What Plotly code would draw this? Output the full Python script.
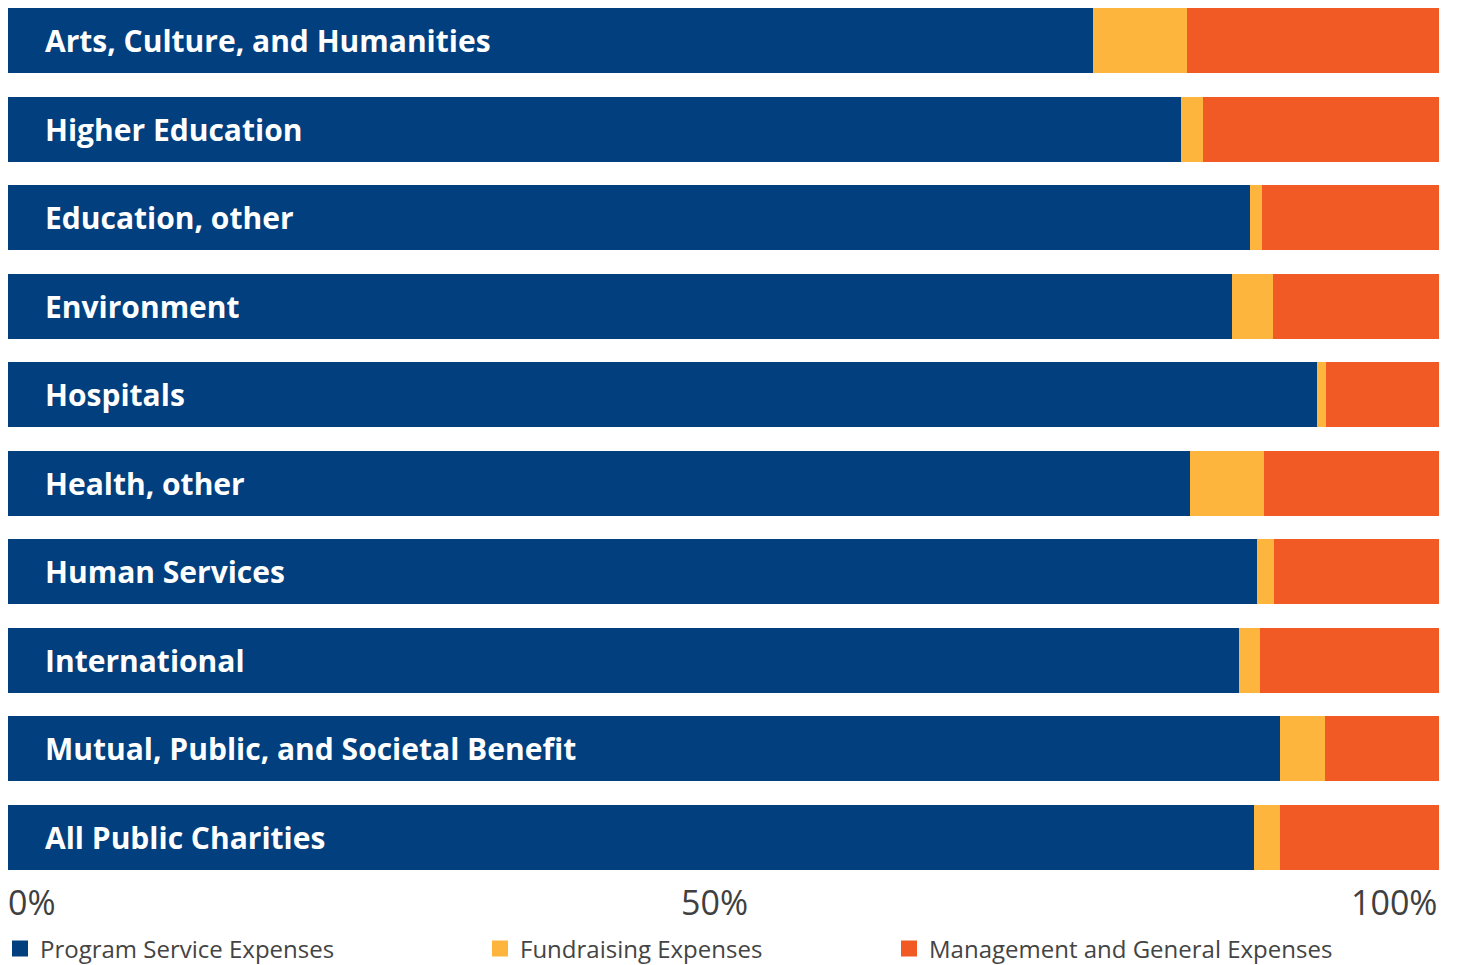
import plotly.graph_objects as go

categories = [
    "Arts, Culture, and Humanities",
    "Higher Education",
    "Education, other",
    "Environment",
    "Hospitals",
    "Health, other",
    "Human Services",
    "International",
    "Mutual, Public, and Societal Benefit",
    "All Public Charities",
]
program = [75.8, 82.0, 86.8, 85.5, 91.5, 82.6, 87.3, 86.0, 88.9, 87.1]
fundraising = [6.6, 1.5, 0.8, 2.9, 0.6, 5.2, 1.2, 1.5, 3.1, 1.8]
management = [round(100 - p - f, 1) for p, f in zip(program, fundraising)]

series_names = ["Program Service Expenses", "Fundraising Expenses", "Management and General Expenses"]
series_values = [program, fundraising, management]
colors = ["#023F7E", "#FDB53D", "#F15A24"]

tick_vals = [0, 50, 100]
tick_text = ["0%", "50%", "100%"]
tick_anchor = ["left", "center", "right"]

W, H = 1457, 965
fig = go.Figure()
for name, vals, col in zip(series_names, series_values, colors):
    fig.add_trace(go.Bar(
        y=categories, x=vals, orientation="h", name=name,
        marker=dict(color=col, line=dict(width=0)),
        showlegend=False, hoverinfo="x+y",
    ))

legend_keys = ["legend", "legend2", "legend3"]
for name, col, lk in zip(series_names, colors, legend_keys):
    fig.add_trace(go.Scatter(
        x=[None], y=[None], mode="markers", name=name,
        marker=dict(symbol="square", size=18, color=col),
        legend=lk, showlegend=True,
    ))

for cat in categories:
    fig.add_annotation(
        x=0, y=cat, xref="x", yref="y", text=cat, showarrow=False,
        xanchor="left", yanchor="middle", xshift=35, yshift=0,
        font=dict(family="Open Sans", size=30, color="white", weight="bold"),
    )

for v, t, a in zip(tick_vals, tick_text, tick_anchor):
    fig.add_annotation(
        x=v, y=0, xref="x", yref="paper", text=t, showarrow=False,
        xanchor=a, yanchor="middle", yshift=-20,
        xshift=-9 if a == "center" else (-2 if a == "left" else 0),
        font=dict(family="Open Sans", size=34, color="#404040"),
    )

leg_font = dict(family="Open Sans", size=24, color="#444444")
legend_x = [0, 480, 889]
legends = {}
for lk, lx in zip(legend_keys, legend_x):
    legends[lk] = dict(
        x=lx / W, y=(H - 949) / H, xref="container", yref="container",
        xanchor="left", yanchor="middle", orientation="h",
        font=leg_font, bgcolor="rgba(0,0,0,0)", itemclick=False,
    )

fig.update_layout(
    width=W, height=H,
    margin=dict(l=8, r=18, t=8, b=83),
    plot_bgcolor="white", paper_bgcolor="white",
    barmode="stack", bargap=0.266,
    xaxis=dict(range=[0, 100], showgrid=False, zeroline=False, showticklabels=False, fixedrange=True),
    yaxis=dict(categoryorder="array", categoryarray=categories, range=[9.502, -0.367],
               showgrid=False, zeroline=False, showticklabels=False, fixedrange=True),
    **legends,
)

fig.write_html("out.html", config={"displayModeBar": False},
               post_script="document.body.style.margin='0';")
